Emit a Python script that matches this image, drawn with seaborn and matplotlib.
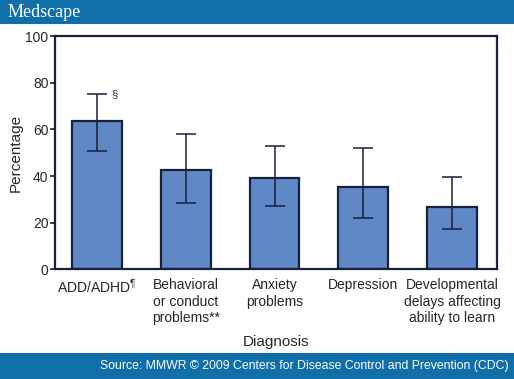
import numpy as np
import pandas as pd
import seaborn as sns
import matplotlib.pyplot as plt
import matplotlib.patches as mpatches

# Data: percentage by diagnosis with 95% CI
diagnosis = ['ADD/ADHD$^{\\P}$', 'Behavioral\nor conduct\nproblems**', 'Anxiety\nproblems',
             'Depression', 'Developmental\ndelays affecting\nability to learn']
pct = np.array([63.7, 42.7, 39.3, 35.5, 26.9])
ci_low = np.array([50.6, 28.3, 27.1, 21.9, 17.5])
ci_high = np.array([75.2, 57.9, 52.9, 52.0, 39.7])

df = pd.DataFrame({'diagnosis': diagnosis, 'pct': pct})

sns.set_style('white')
plt.rcParams['font.family'] = ['Liberation Sans', 'DejaVu Sans']
plt.rcParams['mathtext.fontset'] = 'custom'
plt.rcParams['mathtext.rm'] = 'Liberation Sans'

banner = '#106ea8'
bar_col = '#6088c7'
dark = '#16223a'

fig = plt.figure(figsize=(5.14, 3.79), dpi=100)
ax = fig.add_axes([0.107, 0.289, 0.860, 0.616])

sns.barplot(data=df, x='diagnosis', y='pct', color=bar_col, width=0.56,
            edgecolor=dark, linewidth=1.6, saturation=1, ax=ax)
xs = np.arange(len(pct))
ax.errorbar(xs, pct, yerr=[pct - ci_low, ci_high - pct], fmt='none',
            ecolor=dark, elinewidth=1.1, capsize=7.5, capthick=1.1)
ax.annotate('§', xy=(0, ci_high[0]), xytext=(14, 0), textcoords='offset pixels',
            fontsize=8, va='center', ha='left', color='#333333')

ax.set_ylim(0, 100)
ax.set_xlim(-0.473, 4.507)
ax.set_yticks([0, 20, 40, 60, 80, 100])
ax.set_xlabel('Diagnosis', fontsize=11, labelpad=7)
ax.set_ylabel('Percentage', fontsize=11, labelpad=2)
ax.tick_params(axis='y', left=True, length=3.6, width=1.2, pad=1, labelsize=10, color=dark)
ax.tick_params(axis='x', bottom=False, length=0, pad=6, labelsize=10)
for s in ax.spines.values():
    s.set_linewidth(1.6)
    s.set_color(dark)
for lab in ax.get_xticklabels():
    lab.set_va('top')
    lab.set_ha('center')
    lab.set_multialignment('center')
    lab.set_linespacing(1.25)

# header and footer banners
fig.patches.append(mpatches.Rectangle((0, 1 - 24 / 379), 1, 24 / 379, transform=fig.transFigure,
                                      facecolor=banner, edgecolor='none', zorder=0))
fig.patches.append(mpatches.Rectangle((0, 0), 1, 26 / 379, transform=fig.transFigure,
                                      facecolor=banner, edgecolor='none', zorder=0))
fig.text(0.014, 1 - 12.5 / 379, 'Medscape', color='white', fontsize=13,
         family='Liberation Serif', va='center', ha='left')
fig.text(0.99, 13 / 379, 'Source: MMWR © 2009 Centers for Disease Control and Prevention (CDC)',
         color='white', fontsize=8.8, va='center', ha='right')

fig.savefig('out.png', dpi=100)
